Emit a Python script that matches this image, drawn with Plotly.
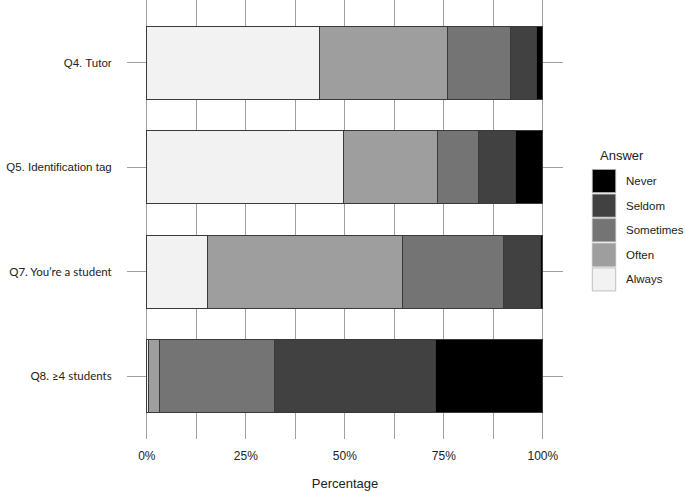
import plotly.graph_objects as go

questions = ["Q4. Tutor", "Q5. Identification tag", "Q7. You\u2019re a student", "Q8. \u22654 students"]
answers = ["Always", "Often", "Sometimes", "Seldom", "Never"]
always = [43.6, 49.7, 15.4, 0.4]
often = [32.3, 23.7, 49.1, 2.8]
sometimes = [15.9, 10.3, 25.6, 29.0]
seldom = [6.6, 9.3, 9.4, 40.8]
never = [1.6, 7.0, 0.5, 27.0]
xtick_vals = [0, 25, 50, 75, 100]
xtick_text = ["0%", "25%", "50%", "75%", "100%"]

series = {"Always": always, "Often": often, "Sometimes": sometimes, "Seldom": seldom, "Never": never}
colors = {"Always": "#f2f2f2", "Often": "#9e9e9e", "Sometimes": "#747474", "Seldom": "#414141", "Never": "#000000"}

fig = go.Figure()
for a in answers:
    fig.add_trace(go.Bar(
        y=questions, x=series[a], orientation="h", name=a,
        marker=dict(color=colors[a], line=dict(color="#3a3a3a", width=1)),
        width=0.7, showlegend=False,
    ))

ytext = [
    "Q4. Tutor",
    "Q5. Identification tag",
    "<span style='font-family:Lato'>Q7. You\u2019re a student</span>",
    "<span style='font-family:Lato'>Q8. \u22654 students</span>",
]

fig.update_layout(
    width=685, height=492,
    margin=dict(l=127, r=122, t=0, b=53),
    barmode="stack",
    plot_bgcolor="white", paper_bgcolor="white",
    font=dict(family="Liberation Sans, Arial, sans-serif", size=12, color="#222222"),
    xaxis=dict(
        range=[-5, 105.1], tickvals=xtick_vals, ticktext=xtick_text,
        showgrid=True, gridcolor="#a0a0a0", gridwidth=1.3, zeroline=False,
        minor=dict(tickvals=[12.5, 37.5, 62.5, 87.5], showgrid=True, gridcolor="#a0a0a0", gridwidth=1.3),
        ticks="outside", ticklen=6, tickcolor="rgba(0,0,0,0)",
        tickfont=dict(size=12, color="#222222"),
        title=dict(text="Percentage", font=dict(size=13, color="#222222"), standoff=16),
        showline=False,
    ),
    yaxis=dict(
        categoryorder="array", categoryarray=questions[::-1],
        tickvals=questions, ticktext=ytext,
        range=[-0.6, 3.6],
        showgrid=True, gridcolor="#a0a0a0", gridwidth=1.3, zeroline=False,
        ticks="outside", ticklen=12, tickcolor="rgba(0,0,0,0)",
        tickfont=dict(size=11.5, color="#222222"),
        showline=False,
    ),
)

# legend drawn as shapes/annotations in paper coordinates
pw = 563 - 127
ph = 439.0
def px(x):
    return (x - 127) / pw
def py(y):
    return 1 - y / ph

fig.add_annotation(x=px(598), y=py(155), xref="paper", yref="paper", text="Answer",
                   showarrow=False, xanchor="left", yanchor="middle",
                   font=dict(size=13, color="#222222"))
leg_order = ["Never", "Seldom", "Sometimes", "Often", "Always"]
for i, a in enumerate(leg_order):
    top = 169.5 + i * 24.6
    fig.add_shape(type="rect", xref="paper", yref="paper",
                  x0=px(592.3), x1=px(615.7), y0=py(top), y1=py(top + 23),
                  fillcolor=colors[a], line=dict(color="#b0b0b0", width=0.8))
    fig.add_annotation(x=px(624), y=py(top + 11.5), xref="paper", yref="paper", text=a,
                       showarrow=False, xanchor="left", yanchor="middle",
                       font=dict(size=11.5, color="#222222"))

fig.write_html("out.html", config={"displayModeBar": False})
with open("out.html", "r", encoding="utf-8") as f:
    html = f.read()
html = html.replace("<body>", "<body style=\"margin:0;padding:0;\">", 1)
with open("out.html", "w", encoding="utf-8") as f:
    f.write(html)
